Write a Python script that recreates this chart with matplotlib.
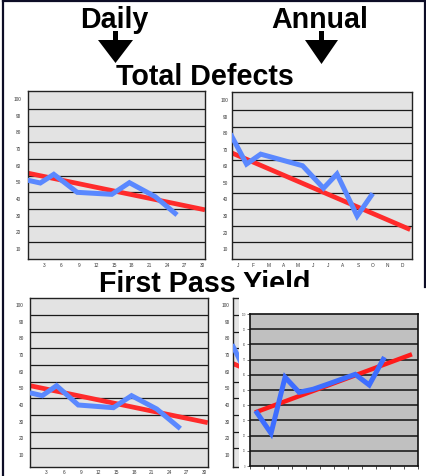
import matplotlib
matplotlib.use("Agg")
import matplotlib.pyplot as plt
from matplotlib.patches import Polygon, Rectangle
from matplotlib.lines import Line2D

plt.rcParams["font.family"] = ["Liberation Sans", "DejaVu Sans"]

# Datos
day_ticks = [3, 6, 9, 12, 15, 18, 21, 24, 27, 30]
months = ["J", "F", "M", "A", "M", "J", "J", "A", "S", "O", "N", "D"]
ytick_vals = [100, 90, 80, 70, 60, 50, 40, 30, 20, 10]
grid_vals = [94, 84, 74, 64, 54, 44, 34, 24, 14]

defects_daily_x = [0.6, 2.4, 4.7, 8.7, 14.6, 17.6, 22.0, 25.4]
defects_daily = [51, 49.6, 54.8, 44, 42.8, 49.8, 41.4, 31.4]
defects_daily_trend_x = [0.3, 30.5]
defects_daily_trend = [55.5, 33.5]

defects_annual_x = [-0.45, 0.55, 1.5, 4.3, 5.7, 6.6, 7.95, 8.9]
defects_annual = [78.4, 61.4, 67.4, 60.4, 46.8, 55.4, 30, 42.4]
defects_annual_trend_x = [-0.5, 11.5]
defects_annual_trend = [68.4, 21.8]

fpy_daily_x = [0.65, 2.35, 4.8, 8.5, 14.5, 17.6, 21.9, 25.6]
fpy_daily = [47, 45.6, 51.6, 40, 38.4, 45.6, 37.6, 26.8]
fpy_daily_trend_x = [0.26, 30.6]
fpy_daily_trend = [51.6, 29.4]

fpy_annual_x = [-0.45, 0.55]
fpy_annual = [75, 57]
fpy_annual_trend_x = [-0.5, 11.5]
fpy_annual_trend = [65, 20]

fpy_inner_x = [0.5, 1.5, 2.5, 3.5, 4.5, 5.5, 6.5, 7.5, 8.5, 9.5]
fpy_inner = [35, 21.5, 58.4, 48.5, 50.5, 53.7, 57, 60.3, 53.3, 70.2]
fpy_inner_trend_x = [0.5, 11.4]
fpy_inner_trend = [35.7, 73]

W, H = 427, 476
fig = plt.figure(figsize=(W / 100, H / 100), dpi=100)


def box(x0, y0, x1, y1):
    return [x0 / W, 1 - y1 / H, (x1 - x0) / W, (y1 - y0) / H]


def chart(rect, xlim, ylim, xticks, xlabels, x, y, tx, ty, ypad, xpad=3.2):
    ax = fig.add_axes(rect)
    ax.set_facecolor("#e3e3e3")
    ax.set_xlim(*xlim)
    ax.set_ylim(*ylim)
    for g in grid_vals:
        ax.axhline(g, color="#1a1a1a", lw=0.9, zorder=1)
    ax.plot(tx, ty, color="#ff2b2b", lw=3.4, zorder=2, solid_capstyle="butt")
    ax.plot(x, y, color="#5a88ff", lw=3.6, zorder=3, solid_joinstyle="miter")
    ax.set_yticks(ytick_vals)
    ax.set_yticklabels([str(v) for v in ytick_vals])
    ax.set_xticks(xticks)
    ax.set_xticklabels(xlabels)
    ax.tick_params(axis="y", length=0, labelsize=3.4, colors="#333", pad=ypad)
    ax.tick_params(axis="x", length=0, labelsize=3.4, colors="#333", pad=xpad)
    for s in ax.spines.values():
        s.set_color("#222")
        s.set_linewidth(1.0)
    return ax


chart(box(28, 91, 205, 259), (0.3, 30.5), (4, 104.8), day_ticks,
      [str(d) for d in day_ticks], defects_daily_x, defects_daily,
      defects_daily_trend_x, defects_daily_trend, ypad=5)
chart(box(231.7, 92.3, 411.7, 259), (-0.44, 11.6), (4, 104.8), range(12),
      months, defects_annual_x, defects_annual,
      defects_annual_trend_x, defects_annual_trend, ypad=2.5)
chart(box(30, 298.3, 207.7, 466.7), (0.26, 30.6), (3, 104), day_ticks,
      [str(d) for d in day_ticks], fpy_daily_x, fpy_daily,
      fpy_daily_trend_x, fpy_daily_trend, ypad=4.5, xpad=2.5)
chart(box(233.3, 298.3, 413, 466.7), (-0.44, 11.6), (3, 104), range(12),
      months, fpy_annual_x, fpy_annual,
      fpy_annual_trend_x, fpy_annual_trend, ypad=2.5)

# imagen pegada encima (tapa parte del grafico anual)
fig.add_artist(Rectangle((239 / W, 0), (W - 239) / W, 1 - 287 / H,
                         transform=fig.transFigure, facecolor="white",
                         edgecolor="none", zorder=5))

ax = fig.add_axes(box(250, 314, 418.3, 466))
ax.set_zorder(6)
ax.set_facecolor("#c0c0c0")
ax.set_xlim(0, 12)
ax.set_ylim(0, 100)
for g in range(10, 100, 10):
    ax.axhline(g, color="#111", lw=1.1, zorder=1)
ax.plot(fpy_inner_trend_x, fpy_inner_trend, color="#ff1a1a", lw=3.2, zorder=2)
ax.plot(fpy_inner_x, fpy_inner, color="#3d6dff", lw=3.6, zorder=3,
        solid_joinstyle="miter")
ax.set_xticks(range(13))
ax.set_xticklabels([""] * 13)
ax.set_yticks(range(0, 101, 10))
ax.set_yticklabels([str(v) for v in range(0, 101, 10)])
ax.tick_params(axis="y", length=2, width=0.6, labelsize=1.8, colors="#555", pad=1)
ax.tick_params(axis="x", length=2, width=0.6, colors="#333")
for s in ax.spines.values():
    s.set_color("#111")
    s.set_linewidth(1.2)

# titulos
kw = dict(fontsize=20.6, fontweight="bold", ha="center", va="baseline")
fig.text(114 / W, 1 - 28 / H, "Daily", **kw)
fig.text(320 / W, 1 - 28 / H, "Annual", **kw)
fig.text(205 / W, 1 - 85 / H, "Total Defects", **kw)
fig.text(205 / W, 1 - 292 / H, "First Pass Yield", **kw)


def arrow(xc, half, stem_top, head_top, tip):
    pts = [(xc - 2.5, stem_top), (xc + 2.5, stem_top), (xc + 2.5, head_top),
           (xc + half, head_top), (xc, tip), (xc - half, head_top),
           (xc - 2.5, head_top)]
    pts = [(px / W, 1 - py / H) for px, py in pts]
    fig.add_artist(Polygon(pts, closed=True, transform=fig.transFigure,
                           facecolor="black", edgecolor="none", zorder=4))


arrow(115.5, 17.5, 31, 40, 63)
arrow(321.5, 16.5, 31, 40, 64)

# marco de la diapositiva
frame = dict(transform=fig.transFigure, color="#0d0d26", lw=1.6, zorder=7)
fig.add_artist(Line2D([3 / W, 3 / W], [0, 1], **frame))
fig.add_artist(Line2D([3 / W, 425 / W], [1 - 1 / H, 1 - 1 / H], **frame))
fig.add_artist(Line2D([425 / W, 425 / W], [1 - 1 / H, 1 - 287 / H], **frame))

fig.savefig("out.png", dpi=100)
